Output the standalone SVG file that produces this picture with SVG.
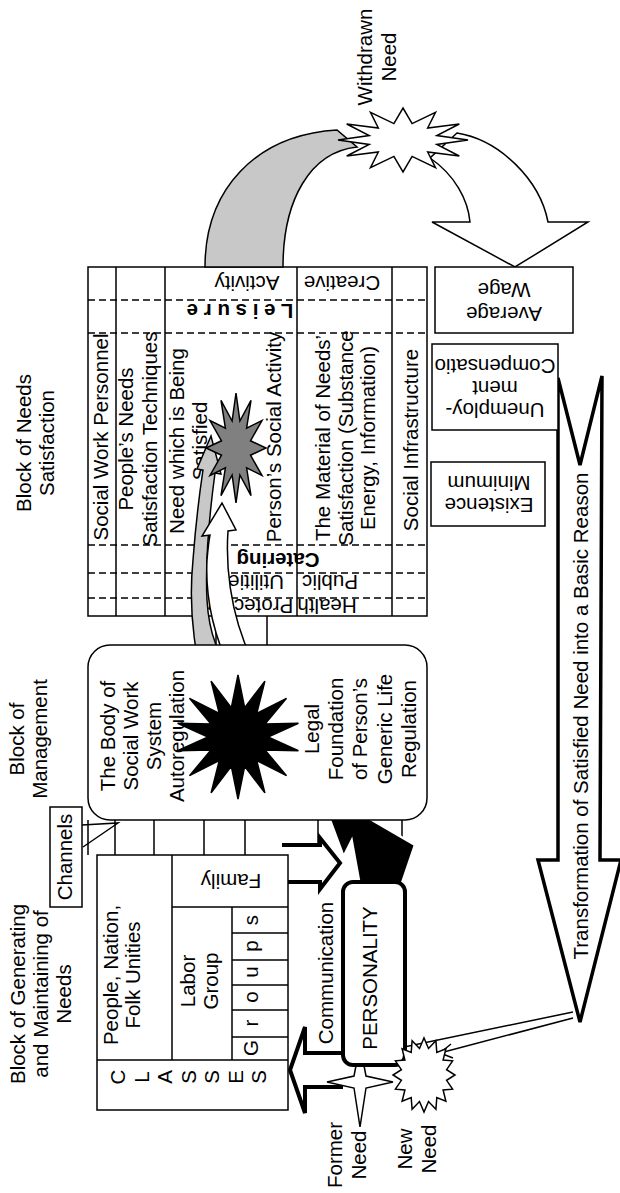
<svg xmlns="http://www.w3.org/2000/svg" width="620" height="1193" viewBox="0 0 620 1193">
<style>
.t{font-family:"Liberation Sans",Arial,sans-serif;font-size:20.5px;fill:#000}
.m{text-anchor:middle}
.b{font-weight:bold}
.ln{fill:none;stroke:#000;stroke-width:1.5}
.ds{fill:none;stroke:#000;stroke-width:1.5;stroke-dasharray:7,4}
.bx{fill:#fff;stroke:#000;stroke-width:1.5}
.hw{fill:#fff;stroke:#000;stroke-width:4;stroke-linejoin:miter}
.st{stroke:#000;stroke-width:1.5;stroke-linejoin:miter}
</style>
<rect width="620" height="1193" fill="#fff"/>

<!-- titles -->
<g id="title-generating"><text class="t m" transform="translate(25,994) rotate(-90)"><tspan x="0">Block of Generating</tspan><tspan x="0" dy="23">and Maintaining of</tspan><tspan x="0" dy="23">Needs</tspan></text></g>
<g id="title-satisfaction"><text class="t m" transform="translate(31,443) rotate(-90)"><tspan x="0">Block of Needs</tspan><tspan x="0" dy="23">Satisfaction</tspan></text></g>
<g id="title-management"><text class="t m" transform="translate(24,739) rotate(-90)"><tspan x="0">Block of</tspan><tspan x="0" dy="23">Management</tspan></text></g>

<!-- needs satisfaction table -->
<g id="needs-table">
<rect class="bx" x="88" y="267" width="339" height="349"/>
<path class="ds" d="M88,300H427M88,333H427M88,545H427M88,573H427M88,598H427"/>
<path class="ln" d="M116,267V616M165,267V616M297,267V616M392,267V616"/>
<text class="t m" transform="translate(108,437) rotate(-90)">Social Work Personnel</text>
<text class="t m" transform="translate(133,439) rotate(-90)"><tspan x="0">People’s Needs</tspan><tspan x="0" dy="23.5">Satisfaction Techniques</tspan></text>
<text class="t m" transform="translate(184,441) rotate(-90)"><tspan x="0">Need which is Being</tspan><tspan x="0" dy="23">Satisfied</tspan></text>
<text class="t m" transform="translate(281,437) rotate(-90)">Person’s Social Activity</text>
<text class="t m" transform="translate(330,438) rotate(-90)"><tspan x="0">The Material of Needs’</tspan><tspan x="0" dy="22.5">Satisfaction (Substance</tspan><tspan x="0" dy="22.5">Energy, Information)</tspan></text>
<text class="t m" transform="translate(418,440) rotate(-90)">Social Infrastructure</text>
<text class="t m" transform="translate(342,276) rotate(180)">Creative</text>
<text class="t m" transform="translate(247,276) rotate(180)">Activity</text>
<text class="t m b" transform="translate(240,304) rotate(180)">L e i s u r e</text>
<text class="t m b" transform="translate(278,553) rotate(180)">Catering</text>
<text class="t m" transform="translate(330,575) rotate(180)">Public</text>
<text class="t m" transform="translate(251,575) rotate(180)">Utilities</text>
<text class="t m" transform="translate(327,599) rotate(180)">Health</text>
<text class="t m" transform="translate(247,599) rotate(180)">Protection</text>
</g>

<!-- connectors -->
<g id="connectors">
<path class="ln" d="M216,616V645M267,616V645"/>
<path class="ln" d="M88,820V855M115,820V855M154,820V855M204,820V855M245,820V855M318,820V845M402,820V882"/>
<path class="st" fill="#c8c8c8" d="M205,267C205,190 255,135 337,130L357,147C310,152 283,200 283,267Z"/>
<path class="st" fill="#fff" d="M430,158C455,175 468,200 470,222L432,222L515,267L588,222L548,222C540,180 500,140 457,133Z"/>
<path fill="#fff" stroke="#000" stroke-width="3.5" stroke-linejoin="miter" d="M558,378L580,465L602,376L600,860L621,860L580,1022L538,860L558,860Z"/>
<text class="t m" transform="translate(588,716) rotate(-90)">Transformation of Satisfied Need into a Basic Reason</text>
<path class="ln" d="M573,1012L380,1052M380,1052L392,1043M380,1052L393,1057"/>
<path class="ln" d="M573,1018L440,1053M440,1053L451,1044M440,1053L453,1058"/>
<path class="st" fill="#c8c8c8" d="M212,702C195,670 188,610 193,560C196,520 200,490 203,470L197,469L211,436L221,474L215,473C210,510 205,560 207,600C209,635 220,660 236,675Z"/>
<path class="st" fill="#fff" d="M232,672C215,640 205,600 207,560C208,548 209,540 210,535L202,536L222,503L236,530L228,531C226,560 228,610 252,660Z"/>
<path class="hw" d="M343,1053H305V1027L290,1070L305,1113V1087H343"/>
<path class="hw" d="M282,845H320V838L340,863L320,889V882H282"/>
<path fill="#000" stroke="#fff" stroke-width="2.5" stroke-linejoin="miter" d="M327,812L372.4,799.5L364.3,815.5L415,845L401,886L360,886L351.7,840.5L343.6,856.5Z"/>
</g>

<!-- body box -->
<g id="body-box">
<rect class="bx" x="88" y="645" width="339" height="175" rx="22"/>
<text class="t m" transform="translate(115,736) rotate(-90)"><tspan x="0">The Body of</tspan><tspan x="0" dy="23">Social Work</tspan><tspan x="0" dy="23">System</tspan><tspan x="0" dy="23">Autoregulation</tspan></text>
<text class="t m" transform="translate(319,729) rotate(-90)"><tspan x="0">Legal</tspan><tspan x="0" dy="24.2">Foundation</tspan><tspan x="0" dy="24.2">of Person’s</tspan><tspan x="0" dy="24.2">Generic Life</tspan><tspan x="0" dy="24.2">Regulation</tspan></text>
</g>

<g id="black-star">
<polygon class="st" fill="#000" points="238,675 244.7,707.8 264.9,681.1 256.7,713.5 286.5,698.3 265,724 298.4,723.2 268,737 298.4,750.8 265,750 286.5,775.7 256.7,760.5 264.9,792.9 244.7,766.2 238,799 231.3,766.2 211.1,792.9 219.3,760.5 189.5,775.7 211,750 177.6,750.8 208,737 177.6,723.2 211,724 189.5,698.3 219.3,713.5 211.1,681.1 231.3,707.8"/>
</g>

<g id="gray-star">
<polygon class="st" fill="#808080" points="236,393 239.9,421 251,400.4 246.6,428.2 262,420.5 250.5,440.8 266,448 250.5,455.2 262,475.5 246.6,467.8 251,495.6 239.9,475 236,503 232.1,475 221,495.6 225.4,467.8 210,475.5 221.5,455.2 206,448 221.5,440.8 210,420.5 225.4,428.2 221,400.4 232.1,421"/>
</g>

<g id="withdrawn-need">
<polygon class="st" fill="#fff" points="403,108 412.1,123.6 435.5,112.3 427.7,128 459.3,124 436.8,135.6 468,140 436.8,144.4 459.3,156 427.7,152 435.5,167.7 412.1,156.4 403,172 393.9,156.4 370.5,167.7 378.3,152 346.7,156 369.2,144.4 338,140 369.2,135.6 346.7,124 378.3,128 370.5,112.3 393.9,123.6"/>
<text class="t m" transform="translate(372,57) rotate(-90)"><tspan x="0">Withdrawn</tspan><tspan x="0" dy="24">Need</tspan></text>
</g>

<g id="average-wage">
<rect class="bx" x="435" y="267" width="138" height="66"/>
<text class="t m" transform="translate(504,307) rotate(180)"><tspan x="0">Average</tspan><tspan x="0" dy="24">Wage</tspan></text>
</g>
<g id="unemployment">
<rect class="bx" x="432" y="344" width="126" height="86"/>
<text class="t m" transform="translate(495,403) rotate(180)"><tspan x="0">Unemploy-</tspan><tspan x="0" dy="22">ment</tspan><tspan x="0" dy="22">Compensatio</tspan></text>
</g>
<g id="existence-minimum">
<rect class="bx" x="431" y="462" width="114" height="64"/>
<text class="t m" transform="translate(489,498) rotate(180)"><tspan x="0">Existence</tspan><tspan x="0" dy="22">Minimum</tspan></text>
</g>

<g id="channels">
<rect class="bx" x="50" y="807" width="32" height="100"/>
<path class="ln" d="M82,825L118,823L83,847"/>
<text class="t m" transform="translate(72,857) rotate(-90)">Channels</text>
</g>

<g id="generating-table">
<rect class="bx" x="97" y="855" width="191" height="255"/>
<path class="ln" d="M97,1060H288M172,855V1060M172,907H288M232,907V1060M232,933H288M232,960H288M232,985H288M232,1010H288M232,1037H288"/>
<text class="t m" transform="translate(118,975) rotate(-90)"><tspan x="0">People, Nation,</tspan><tspan x="0" dy="22">Folk Unities</tspan></text>
<text class="t m" transform="translate(195,981) rotate(-90)"><tspan x="0">Labor</tspan><tspan x="0" dy="23">Group</tspan></text>
<text class="t m" transform="translate(231,874) rotate(180)">Family</text>
<text class="t m" transform="translate(125,1077) rotate(-90)"><tspan x="0">C</tspan><tspan x="0" dy="23.5">L</tspan><tspan x="0" dy="23.5">A</tspan><tspan x="0" dy="23.5">S</tspan><tspan x="0" dy="23.5">S</tspan><tspan x="0" dy="23.5">E</tspan><tspan x="0" dy="23.5">S</tspan></text>
<text class="t m" transform="translate(258,1048) rotate(-90)">G</text>
<text class="t m" transform="translate(258,1023) rotate(-90)">r</text>
<text class="t m" transform="translate(258,997) rotate(-90)">o</text>
<text class="t m" transform="translate(258,972) rotate(-90)">u</text>
<text class="t m" transform="translate(258,946) rotate(-90)">p</text>
<text class="t m" transform="translate(258,920) rotate(-90)">s</text>
</g>

<g id="communication"><text class="t m" transform="translate(333,973) rotate(-90)">Communication</text></g>

<g id="former-need">
<polygon class="st" fill="#fff" points="360,1045 366,1076 393,1082 366,1088 360,1127 354,1088 327,1082 354,1076"/>
<text class="t m" transform="translate(342,1155) rotate(-90)"><tspan x="0">Former</tspan><tspan x="0" dy="24">Need</tspan></text>
</g>

<g id="personality">
<rect fill="#fff" stroke="#000" stroke-width="4" x="343" y="882" width="62" height="183" rx="10"/>
<text class="t m" transform="translate(377,978) rotate(-90)">PERSONALITY</text>
</g>

<g id="new-need">
<polygon class="st" fill="#fff" points="424,1038 428.5,1048.5 435.9,1040.8 436.8,1052.5 445.9,1048.8 443.1,1060 452.6,1060.8 446.6,1069.7 455,1075 446.6,1080.3 452.6,1089.2 443.1,1090 445.9,1101.2 436.8,1097.5 435.9,1109.2 428.5,1101.5 424,1112 419.5,1101.5 412.1,1109.2 411.2,1097.5 402.1,1101.2 404.9,1090 395.4,1089.2 401.4,1080.3 393,1075 401.4,1069.7 395.4,1060.8 404.9,1060 402.1,1048.8 411.2,1052.5 412.1,1040.8 419.5,1048.5"/>
<text class="t m" transform="translate(412,1149) rotate(-90)"><tspan x="0">New</tspan><tspan x="0" dy="24">Need</tspan></text>
</g>
</svg>
